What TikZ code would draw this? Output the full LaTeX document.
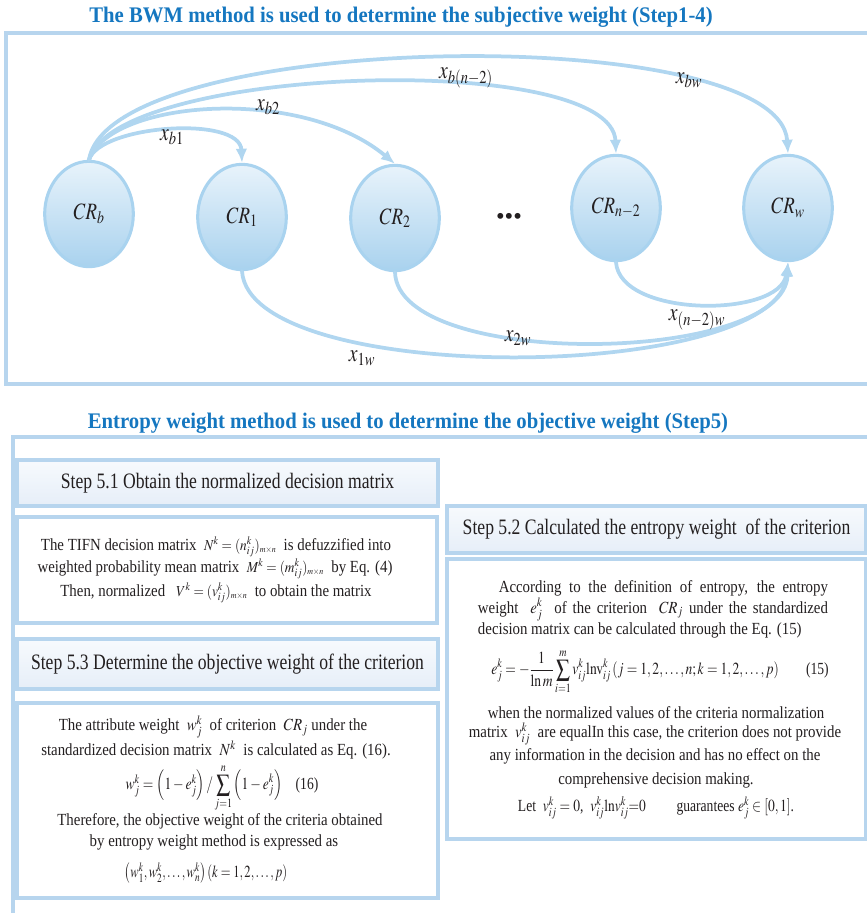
\documentclass[tikz,border=0pt]{standalone}
\usepackage{mathptmx}
\usepackage{fontspec}
\setmainfont{Liberation Serif}
\usepackage{graphicx}
\usetikzlibrary{positioning,arrows.meta,shapes.geometric}
\definecolor{ink}{HTML}{231F20}
\definecolor{headblue}{HTML}{1577C0}
\definecolor{framecol}{HTML}{B7D5EE}
\definecolor{nodeline}{HTML}{A9D3EF}
\definecolor{nodetop}{HTML}{E8F3FB}
\definecolor{nodebot}{HTML}{A9D2EE}
\definecolor{linkcol}{HTML}{B0D6F0}
\definecolor{headtop}{HTML}{F7FAFD}
\definecolor{headbot}{HTML}{E6EEF8}
\newcommand{\sq}[1]{\scalebox{0.8}[1]{#1}}
\newcommand{\sqb}[1]{\scalebox{0.875}[1]{#1}}
\newcommand{\sqt}[1]{\scalebox{0.93}[1]{#1}}
\newcommand{\mth}[1]{{\fontsize{13}{14}\selectfont$#1$}}

\begin{document}
\begin{tikzpicture}[x=0.03cm, y=-0.03cm, line cap=round,
  every node/.style={font=\fontsize{14.5}{18}\selectfont, text=ink, inner sep=0pt},
  crit/.style={ellipse, draw=nodeline, line width=2.6pt, top color=nodetop, bottom color=nodebot,
    minimum width=2.66cm, minimum height=3.16cm, font=\fontsize{20}{24}\selectfont},
  link/.style={draw=linkcol, line width=3.2pt, -{Latex[length=12pt,width=10pt]}},
  wlab/.style={font=\fontsize{21}{24}\selectfont},
  outerframe/.style={draw=framecol, line width=3.4pt},
  headbox/.style={draw=framecol, line width=3.6pt, top color=headtop, bottom color=headbot,
    font=\fontsize{18.8}{22}\selectfont},
  textbox/.style={draw=framecol, line width=3.6pt, fill=white},
  heading/.style={font=\bfseries\fontsize{19}{22}\selectfont, text=headblue}]

\useasboundingbox (0,0) rectangle (867,913);

% BWM part
\node[heading] (ttl1) at (401,17) {\sqt{The BWM method is used to determine the subjective weight (Step1-4)}};
\draw[outerframe] (6,33) rectangle (890,384);

\node[crit] (crb) at (89,214)  {\sq{$CR_b$}};
\node[crit] (cr1) at (242,217) {\sq{$CR_1$}};
\node[crit] (cr2) at (395,218) {\sq{$CR_2$}};
\node[font=\fontsize{21}{24}\selectfont] (dots) at (509,219) {\textbullet\textbullet\textbullet};
\node[crit] (crn) at (616,208) {\sq{$CR_{n-2}$}};
\node[crit] (crw) at (788,208) {\sq{$CR_w$}};

\draw[link] (crb.north) .. controls (100,125) and (240,115) .. (cr1.north);
\draw[link] (crb.north) .. controls (110,100) and (300,85) .. (cr2.north);
\draw[link] (crb.north) .. controls (115,65) and (612,50) .. (crn.north);
\draw[link] (crb.north) .. controls (110,30) and (780,20) .. (crw.north);

\draw[link] (cr1.south) .. controls (250,388) and (780,383) .. (crw.south);
\draw[link] (cr2.south) .. controls (398,370) and (785,365) .. (crw.south);
\draw[link] (crn.south) .. controls (620,318) and (780,318) .. (crw.south);

\node[wlab] (lb1) at (172,137) {\sq{$x_{b1}$}};
\node[wlab] (lb2) at (268,107) {\sq{$x_{b2}$}};
\node[wlab] (lbn) at (466,78)  {\sq{$x_{b(n-2)}$}};
\node[wlab] (lbw) at (689,80)  {\sq{$x_{bw}$}};
\node[wlab] (l1w) at (362,358) {\sq{$x_{1w}$}};
\node[wlab] (l2w) at (518,338) {\sq{$x_{2w}$}};
\node[wlab] (lnw) at (697,320) {\sq{$x_{(n-2)w}$}};

% entropy part
\node[heading] (ttl2) at (408,423) {\sqt{Entropy weight method is used to determine the objective weight (Step5)}};
\draw[outerframe] (13,437) rectangle (890,940);

\node[headbox, minimum width=12.63cm, minimum height=1.38cm] (s51) at (227.5,483)
  {\sq{Step 5.1 Obtain the normalized decision matrix}};
\node[textbox, minimum width=12.6cm, minimum height=3.18cm] (s51b) at (227,570) {};
\node (c1) at (216,547) {\sqb{The TIFN decision matrix \ \mth{N^k=(n_{ij}^k)_{\scriptscriptstyle m\times n}} \ is defuzzified into}};
\node (c2) at (215,569) {\sqb{weighted probability mean matrix \ \mth{M^k=(m_{ij}^k)_{\scriptscriptstyle m\times n}} \ by Eq. (4)}};
\node (c3) at (216,593) {\sqb{Then, normalized \ \ \mth{V^k=(v_{ij}^k)_{\scriptscriptstyle m\times n}} \ to obtain the matrix}};

\node[headbox, minimum width=12.63cm, minimum height=1.5cm] (s53) at (227.5,664)
  {\sq{Step 5.3 Determine the objective weight of the criterion}};
\node[textbox, minimum width=12.63cm, minimum height=5.85cm] (s53b) at (227.5,800.5) {};
\node (a1) at (213,727) {\sqb{The attribute weight \ $w_j^k$ \ of criterion \ $CR_j$ under the}};
\node (a2) at (216,750) {\sqb{standardized decision matrix \ $N^k$ \ is calculated as Eq. (16).}};
\node (a3) at (222,788) {\sq{$w_j^k=\left(1-e_j^k\right)/\displaystyle\sum_{j=1}^{n}\left(1-e_j^k\right)$\quad(16)}};
\node (a4) at (220,821) {\sqb{Therefore, the objective weight of the criteria obtained}};
\node (a5) at (214,842) {\sqb{by entropy weight method is expressed as}};
\node (a6) at (206,873) {\scalebox{0.74}[1]{$\left(w_1^k,w_2^k,\ldots,w_n^k\right)\left(k=1,2,\ldots,p\right)$}};

\node[headbox, minimum width=12.57cm, minimum height=1.41cm] (s52) at (656.5,529.5)
  {\sq{Step 5.2 Calculated the entropy weight \ of the criterion}};
\node[textbox, minimum width=12.57cm, minimum height=8.4cm] (s52b) at (656.5,699) {};
\node (b1) at (653,609) {\sqb{\parbox{12cm}{\fontsize{14.5}{18}\selectfont\setlength{\parindent}{1.4em}\indent
  According to the definition of entropy, the entropy\linebreak
  weight \ $e_j^k$ \ of the criterion \ $CR_j$ under the standardized\linebreak
  decision matrix can be calculated through the Eq. (15)}}};
\node (b2) at (660,672) {\sq{$\displaystyle e_j^k=-\frac{1}{\ln m}\sum_{i=1}^{m}v_{ij}^k\mathrm{lnv}_{ij}^k\left(j=1,2,\ldots,n;k=1,2,\ldots,p\right)$\qquad(15)}};
\node (b3) at (656,713) {\sqb{when the normalized values of the criteria normalization}};
\node (b4) at (655,734) {\sqb{matrix \ $v_{ij}^k$ \ are equalIn this case, the criterion does not provide}};
\node (b5) at (655,756) {\sqb{any information in the decision and has no effect on the}};
\node (b6) at (656,780) {\sqb{comprehensive decision making.}};
\node (b7) at (656,808) {\sq{Let \ $v_{ij}^k=0$, \ {\Large$v_{ij}^k\mathrm{ln}v_{ij}^k{=}0$} \qquad guarantees $e_j^k\in[0,1]$.}};
\end{tikzpicture}
\end{document}
